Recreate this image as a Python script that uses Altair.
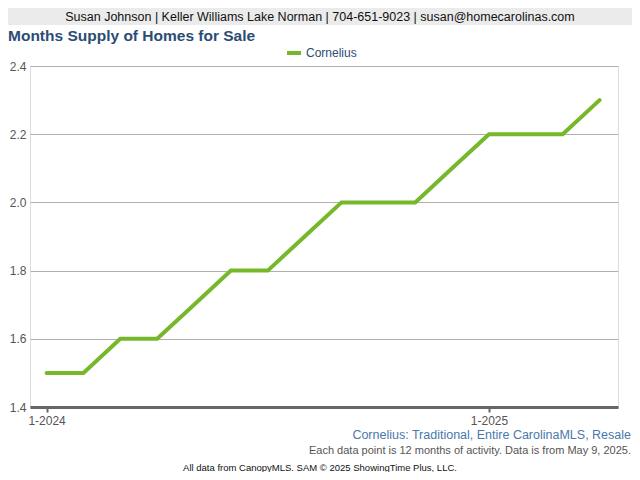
import altair as alt
import pandas as pd

months = ["1-2024", "2-2024", "3-2024", "4-2024", "5-2024", "6-2024", "7-2024", "8-2024",
          "9-2024", "10-2024", "11-2024", "12-2024", "1-2025", "2-2025", "3-2025", "4-2025"]
supply = [1.5, 1.5, 1.6, 1.6, 1.7, 1.8, 1.8, 1.9, 2.0, 2.0, 2.0, 2.1, 2.2, 2.2, 2.2, 2.3]
series_name = "Cornelius"
tick_labels = ["1-2024", "1-2025"]
y_ticks = [1.4, 1.6, 1.8, 2.0, 2.2, 2.4]

header_text = "Susan Johnson | Keller Williams Lake Norman | 704-651-9023 | susan@homecarolinas.com"
title_text = "Months Supply of Homes for Sale"
sub1 = "Cornelius: Traditional, Entire CarolinaMLS, Resale"
sub2 = "Each data point is 12 months of activity. Data is from May 9, 2025."
sub3 = "All data from CanopyMLS. SAM \u00a9 2025 ShowingTime Plus, LLC."

df = pd.DataFrame({"idx": list(range(len(months))), "month": months, "value": supply})
tick_idx = [months.index(t) for t in tick_labels]

FONT = "Liberation Sans"
GREEN = "#76b82a"
PL, PT, PR, PB = 22, 58, 14, 65
W, H = 624 - PL - PR, 464 - PT - PB

label_expr = " : ".join(f"datum.value == {i} ? '{t}'" for i, t in zip(tick_idx, tick_labels)) + " : ''"

base = alt.Chart(df)

line = base.mark_line(color=GREEN, strokeWidth=4, strokeCap="round", strokeJoin="miter").encode(
    x=alt.X("idx:Q", scale=alt.Scale(domain=[-0.45, 15.5], nice=False, zero=False),
            axis=alt.Axis(values=tick_idx, labelExpr=label_expr, title=None, grid=False,
                          domainColor="#666666", domainWidth=3, tickColor="#666666",
                          tickWidth=2, tickSize=5, labelFont=FONT, labelFontSize=12,
                          labelColor="#555555", labelPadding=3)),
    y=alt.Y("value:Q", scale=alt.Scale(domain=[1.4, 2.4], nice=False, zero=False),
            axis=alt.Axis(values=y_ticks, format=".1f", title=None, domain=False, ticks=False,
                          gridColor="#b0b0b0", gridWidth=1, labelFont=FONT, labelFontSize=12,
                          labelColor="#555555", labelPadding=4)),
)

one = pd.DataFrame({"a": [0]})
ann = alt.Chart(one)

header_band = ann.mark_rect(color="#ebebeb").encode(
    x=alt.value(-PL), x2=alt.value(W + PR), y=alt.value(-PT), y2=alt.value(-PT + 17))
header = ann.mark_text(font=FONT, fontSize=12.5, color="#111111", align="center", baseline="middle").encode(
    x=alt.value(312 - PL), y=alt.value(-PT + 8.5), text=alt.value(header_text))
title = ann.mark_text(font=FONT, fontSize=15.5, fontWeight="bold", color="#2b4d73", align="left",
                      baseline="middle").encode(x=alt.value(-PL), y=alt.value(-30), text=alt.value(title_text))
leg_line = ann.mark_rule(color=GREEN, strokeWidth=4).encode(
    x=alt.value(279 - PL), x2=alt.value(293 - PL), y=alt.value(-13))
leg_text = ann.mark_text(font=FONT, fontSize=12, color="#2b4d73", align="left", baseline="middle").encode(
    x=alt.value(298 - PL), y=alt.value(-13), text=alt.value(series_name))
t1 = ann.mark_text(font=FONT, fontSize=12.5, color="#4a78aa", align="right", baseline="middle").encode(
    x=alt.value(W + PR - 1), y=alt.value(H + 28), text=alt.value(sub1))
t2 = ann.mark_text(font=FONT, fontSize=11, color="#555555", align="right", baseline="middle").encode(
    x=alt.value(W + PR - 1), y=alt.value(H + 44), text=alt.value(sub2))
t3 = ann.mark_text(font=FONT, fontSize=9.5, color="#111111", align="center", baseline="middle").encode(
    x=alt.value(312 - PL), y=alt.value(H + 61), text=alt.value(sub3))

chart = alt.layer(header_band, header, title, leg_line, leg_text, line, t1, t2, t3).properties(
    width=W, height=H,
    autosize=alt.AutoSizeParams(type="none"),
    padding={"left": PL, "top": PT, "right": PR, "bottom": PB},
).configure_view(stroke=None).configure(background="white")

chart.save("out.html", embed_options={"renderer": "svg", "actions": False})
